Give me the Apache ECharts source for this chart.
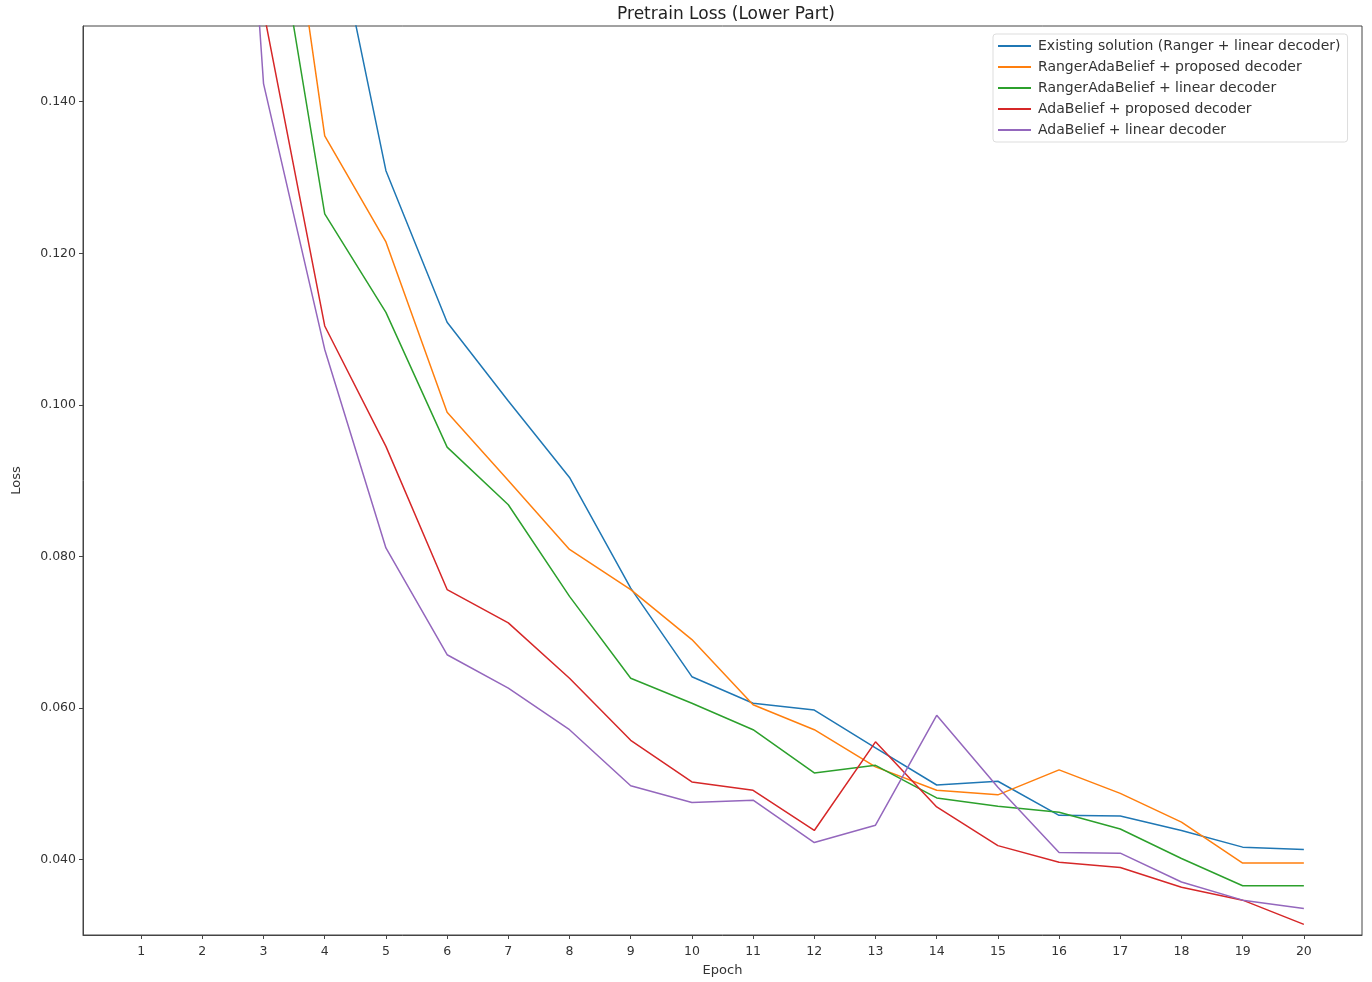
<!DOCTYPE html>
<html>
<head>
<meta charset="utf-8">
<script src="https://cdn.jsdelivr.net/npm/echarts@6/dist/echarts.min.js"></script>
<style>html,body{margin:0;padding:0;background:#fff}#c{width:1372px;height:982px}</style>
</head>
<body>
<div id="c"></div>
<script>
const epochs = [1,2,3,4,5,6,7,8,9,10,11,12,13,14,15,16,17,18,19,20];
const yTicks = [0.04,0.06,0.08,0.10,0.12,0.14];
const seriesNames = [
  'Existing solution (Ranger + linear decoder)',
  'RangerAdaBelief + proposed decoder',
  'RangerAdaBelief + linear decoder',
  'AdaBelief + proposed decoder',
  'AdaBelief + linear decoder'
];
const existingRanger = [0.70,0.35,0.22,0.170,0.1309,0.1109,0.1005,0.0904,0.0758,0.0641,0.0606,0.0597,0.0547,0.0498,0.0503,0.0458,0.0457,0.0438,0.0416,0.0413];
const rangerAdaProposed = [0.65,0.30,0.192,0.1355,0.1215,0.0990,0.0900,0.0809,0.0756,0.0690,0.0604,0.0571,0.0522,0.0491,0.0485,0.0518,0.0487,0.0449,0.0395,0.0395];
const rangerAdaLinear = [0.60,0.28,0.174,0.1252,0.1122,0.0944,0.0868,0.0747,0.0639,0.0606,0.0571,0.0514,0.0524,0.0481,0.0470,0.0462,0.0440,0.0401,0.0365,0.0365];
const adaProposed = [0.55,0.25,0.152,0.1104,0.0945,0.0756,0.0712,0.0639,0.0557,0.0502,0.0491,0.0438,0.0555,0.0469,0.0418,0.0396,0.0389,0.0363,0.0346,0.0314];
const adaLinear = [0.50,0.26,0.1424,0.1073,0.0811,0.0670,0.0626,0.0571,0.0497,0.0475,0.0478,0.0422,0.0445,0.0590,0.0495,0.0409,0.0408,0.0370,0.0346,0.0335];
const colors = ['#1f77b4','#ff7f0e','#2ca02c','#d62728','#9467bd'];
const allValues = [existingRanger, rangerAdaProposed, rangerAdaLinear, adaProposed, adaLinear];

const font = 'DejaVu Sans';
const chart = echarts.init(document.getElementById('c'), null, {renderer:'canvas'});
chart.setOption({
  animation: false,
  backgroundColor: '#fff',
  title: {
    text: 'Pretrain Loss (Lower Part)',
    left: 721, top: 1, textAlign: 'center',
    textStyle: {fontFamily: font, fontSize: 17, fontWeight: 'normal', color: '#222'}
  },
  legend: {
    orient: 'vertical',
    left: 993, top: 34,
    data: seriesNames,
    icon: 'rect',
    itemWidth: 33, itemHeight: 2,
    itemGap: 7,
    padding: [5, 7, 5, 5],
    borderColor: '#ddd', borderWidth: 1, borderRadius: 3,
    backgroundColor: 'rgba(255,255,255,0.8)',
    textStyle: {fontFamily: font, fontSize: 14, color: '#333', lineHeight: 14, padding: [0,0,0,2]}
  },
  grid: {
    left: 83, right: 10, top: 26, bottom: 46,
    show: true, borderColor: '#444', borderWidth: 1, backgroundColor: 'transparent'
  },
  xAxis: {
    type: 'value', min: 0.05, max: 20.95,
    name: 'Epoch', nameLocation: 'middle', nameGap: 29,
    nameTextStyle: {fontFamily: font, fontSize: 13, color: '#333'},
    axisLine: {show: true, lineStyle: {color: '#444', width: 1}},
    axisTick: {show: true, customValues: epochs, length: 4, lineStyle: {color: '#444'}},
    axisLabel: {customValues: epochs, fontFamily: font, fontSize: 12.5, color: '#333', margin: 10},
    splitLine: {show: false}
  },
  yAxis: {
    type: 'value', min: 0.03, max: 0.15,
    name: 'Loss', nameLocation: 'middle', nameGap: 60,
    nameTextStyle: {fontFamily: font, fontSize: 13, color: '#333'},
    axisLine: {show: true, lineStyle: {color: '#444', width: 1}},
    axisTick: {show: true, customValues: yTicks, length: 4, lineStyle: {color: '#444'}},
    axisLabel: {customValues: yTicks, fontFamily: font, fontSize: 12.5, color: '#333', margin: 7,
      formatter: v => v.toFixed(3)},
    splitLine: {show: false}
  },
  series: seriesNames.map((n, i) => ({
    name: n,
    type: 'line',
    data: epochs.map((e, j) => [e, allValues[i][j]]),
    showSymbol: false,
    symbol: 'none',
    clip: true,
    color: colors[i],
    lineStyle: {color: colors[i], width: 1.5}
  }))
});
</script>
</body>
</html>
